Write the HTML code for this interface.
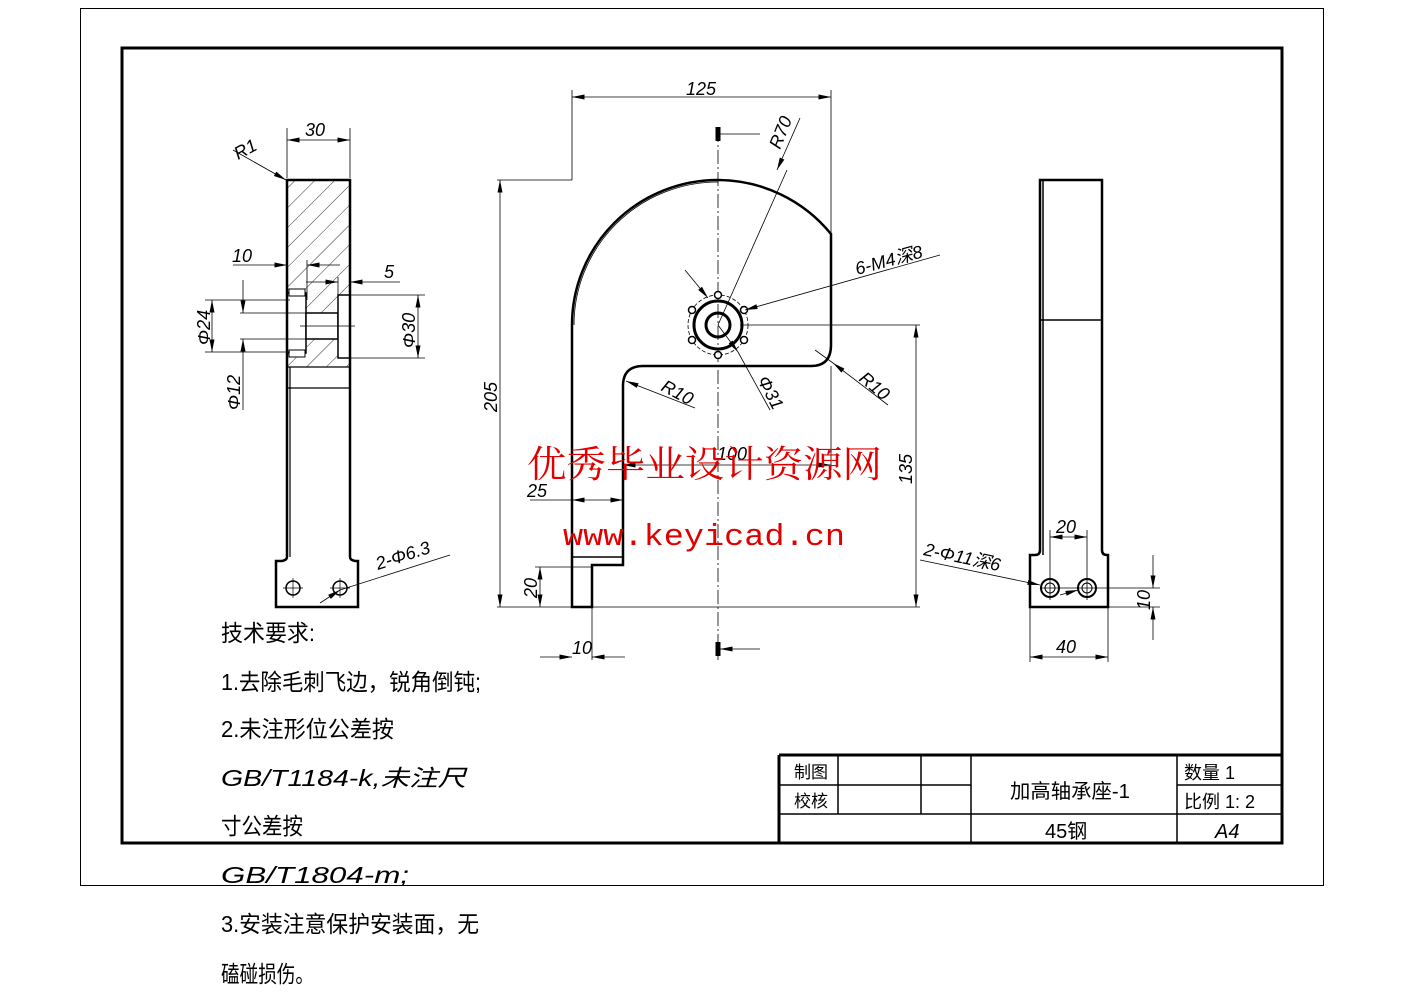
<!DOCTYPE html>
<html><head><meta charset="utf-8"><style>
html,body{margin:0;padding:0;background:#fff}
svg{display:block}
text{font-family:"Liberation Sans","Noto Sans CJK SC",sans-serif;fill:#000}
.t{font-style:italic;font-size:18px}
</style></head><body>
<svg width="1403" height="992" viewBox="0 0 1403 992" xmlns="http://www.w3.org/2000/svg">
<defs>
<marker id="a" viewBox="0 0 10 4" refX="10" refY="2" markerWidth="14" markerHeight="5" orient="auto-start-reverse" markerUnits="userSpaceOnUse"><path d="M0,0L10,2L0,4z" fill="#000"/></marker>
<pattern id="h" width="14" height="14" patternUnits="userSpaceOnUse" patternTransform="rotate(45)"><line x1="0" y1="0" x2="0" y2="14" stroke="#000" stroke-width="0.8"/></pattern>
</defs>
<rect x="80.5" y="8.5" width="1243" height="877" fill="none" stroke="#000" stroke-width="1"/>
<rect x="122" y="48" width="1160" height="795" fill="none" stroke="#000" stroke-width="3"/>

<g stroke="#000" fill="none">
<path d="M779 755H1282M779 755V843" stroke-width="3"/>
<path d="M779 785H971M1177 785H1282M779 814H1282M838 755V814M921 755V814M971 755V843M1177 755V843" stroke-width="1.5"/>
</g>
<text x="794" y="778" font-size="17">制图</text>
<text x="794" y="807" font-size="17">校核</text>
<text x="1010" y="798" font-size="20" textLength="120" lengthAdjust="spacingAndGlyphs">加高轴承座-1</text>
<text x="1045" y="838" font-size="20">45钢</text>
<text x="1184" y="779" font-size="18">数量 1</text>
<text x="1184" y="808" font-size="18">比例 1: 2</text>
<text x="1215" y="838" font-size="20" font-style="italic">A4</text>

<!-- LEFT VIEW -->
<g stroke="#000" fill="none">
<rect x="287" y="180" width="63" height="187" fill="url(#h)" stroke="none"/>
<rect x="287" y="293" width="19" height="60" fill="#fff" stroke="#000" stroke-width="1.5"/>
<rect x="306" y="313" width="32" height="26" fill="#fff" stroke="#000" stroke-width="1.5"/>
<rect x="338" y="295" width="12" height="63" fill="#fff" stroke="#000" stroke-width="1.5"/>
<rect x="289" y="289" width="16" height="7" fill="#fff" stroke-width="1"/>
<rect x="289" y="350" width="16" height="7" fill="#fff" stroke-width="1"/>
<path d="M287 180H350V557Q350 560 355 561H358V607H276V561H282Q287 560 287 557Z" stroke-width="2.5"/>
<path d="M287 367H350M287 388H350M290 367V557" stroke-width="1.2"/>
<circle cx="293" cy="588" r="7" stroke-width="1.5"/><circle cx="340" cy="588" r="7" stroke-width="1.5"/>
<path d="M283 588H303M293 578V598M330 588H350M340 578V598" stroke-width="0.7"/>
<g stroke-width="0.8">
<path d="M287 178V128M350 178V128"/>
<path d="M287 140H350" marker-start="url(#a)" marker-end="url(#a)"/>
<path d="M233 150L286 180" marker-end="url(#a)"/>
<path d="M233 265H287" marker-end="url(#a)"/><path d="M340 265H307" marker-end="url(#a)"/>
<path d="M307 260V300"/>
<path d="M306 282H338" marker-end="url(#a)"/><path d="M400 282H350" marker-end="url(#a)"/><path d="M338 277V295"/>
<path d="M205 300H290M205 352H290M240 313H320M240 339H320M300 326H355M350 295H425M350 358H425"/>
<path d="M212 300V352" marker-start="url(#a)" marker-end="url(#a)"/>
<path d="M243 280V313" marker-end="url(#a)"/><path d="M243 410V339" marker-end="url(#a)"/>
<path d="M418 295V358" marker-start="url(#a)" marker-end="url(#a)"/>
<path d="M320 603L340 590" marker-end="url(#a)"/><path d="M340 590L450 555"/>
</g>
</g>
<text class="t" x="305" y="136">30</text>
<text class="t" x="238" y="160" transform="rotate(-28 238 160)">R1</text>
<text class="t" x="232" y="262">10</text>
<text class="t" x="384" y="278">5</text>
<text class="t" x="210" y="345" transform="rotate(-90 210 345)">Φ24</text>
<text class="t" x="240" y="410" transform="rotate(-90 240 410)">Φ12</text>
<text class="t" x="415" y="348" transform="rotate(-90 415 348)">Φ30</text>
<text class="t" x="378" y="570" transform="rotate(-18 378 570)">2-Φ6.3</text>

<!-- MAIN VIEW -->
<g stroke="#000" fill="none">
<path d="M572 607V325A146 145 0 0 1 718 180A146 145 0 0 1 831 234V345Q831 366 811 366H643Q623 366 623 386V565H592V607Z" stroke-width="2.5"/>
<path d="M574 325A144 143 0 0 1 718 182" stroke-width="0.8"/>
<path d="M572 557H623" stroke-width="1.5"/>
<path d="M718 128V660" stroke-width="0.8" stroke-dasharray="14 3 2 3"/>
<path d="M718 127V141M718 642V656" stroke-width="5"/>
<path d="M760 134H720M760 649H720" stroke-width="0.8" marker-end="url(#a)"/>
<circle cx="718" cy="325" r="12" stroke-width="3"/>
<circle cx="718" cy="325" r="24" stroke-width="3"/>
<circle cx="718" cy="325" r="30" stroke-width="0.8" stroke-dasharray="4 2"/>
<g stroke-width="1.5" fill="#fff">
<circle cx="718" cy="295" r="3.5"/><circle cx="744" cy="310" r="3.5"/><circle cx="744" cy="340" r="3.5"/>
<circle cx="718" cy="355" r="3.5"/><circle cx="692" cy="340" r="3.5"/><circle cx="692" cy="310" r="3.5"/>
</g>
<g stroke-width="0.8">
<path d="M572 180V90M831 234V90"/>
<path d="M572 97H831" marker-start="url(#a)" marker-end="url(#a)"/>
<path d="M497 180H572M497 607H920M740 325H920"/>
<path d="M500 180V607" marker-start="url(#a)" marker-end="url(#a)"/>
<path d="M916 325V607" marker-start="url(#a)" marker-end="url(#a)"/>
<path d="M831 366V470"/>
<path d="M623 465H831" marker-start="url(#a)" marker-end="url(#a)"/>
<path d="M530 500H572"/><path d="M572 500H623" marker-start="url(#a)" marker-end="url(#a)"/>
<path d="M535 567H592"/><path d="M540 567V607" marker-start="url(#a)" marker-end="url(#a)"/>
<path d="M592 607V660"/>
<path d="M540 657H572" marker-end="url(#a)"/><path d="M625 657H592" marker-end="url(#a)"/>
<path d="M718 325L787 170" /><path d="M800 118L777 170" marker-end="url(#a)"/>
<path d="M940 255L745 310" marker-end="url(#a)"/>
<path d="M685 270L708 298" marker-end="url(#a)"/>
<path d="M718 325L738 352" marker-end="url(#a)"/><path d="M738 352L770 410"/>
<path d="M695 408L626 381" marker-end="url(#a)"/>
<path d="M888 405L833 363" marker-end="url(#a)"/><path d="M833 363L815 350"/>
</g>
</g>
<text class="t" x="686" y="95">125</text>
<text class="t" x="497" y="412" transform="rotate(-90 497 412)">205</text>
<text class="t" x="912" y="484" transform="rotate(-90 912 484)">135</text>
<text class="t" x="717" y="460">100</text>
<text class="t" x="527" y="497">25</text>
<text class="t" x="537" y="598" transform="rotate(-90 537 598)">20</text>
<text class="t" x="572" y="654">10</text>
<text class="t" x="780" y="150" transform="rotate(-68 780 150)">R70</text>
<text class="t" x="857" y="275" transform="rotate(-15 857 275)">6-M4深8</text>
<text class="t" x="660" y="390" transform="rotate(28 660 390)">R10</text>
<text class="t" x="858" y="380" transform="rotate(40 858 380)">R10</text>
<text class="t" x="757" y="380" transform="rotate(62 757 380)">Φ31</text>

<!-- RIGHT VIEW -->
<g stroke="#000" fill="none">
<path d="M1040 180H1102V550Q1102 555 1107 555H1108V607H1030V555H1035Q1040 555 1040 550Z" stroke-width="2.5"/>
<path d="M1040 320H1102M1043 180V555" stroke-width="1.5"/>
<circle cx="1050" cy="588" r="9" stroke-width="2"/><circle cx="1050" cy="588" r="5" stroke-width="1"/>
<circle cx="1087" cy="588" r="9" stroke-width="2"/><circle cx="1087" cy="588" r="5" stroke-width="1"/>
<g stroke-width="0.8">
<path d="M1050 530V600M1087 530V600M1040 588H1097M1077 588H1160"/>
<path d="M1050 537H1087" marker-start="url(#a)" marker-end="url(#a)"/>
<path d="M1030 607V662M1108 607V662"/>
<path d="M1030 657H1108" marker-start="url(#a)" marker-end="url(#a)"/>
<path d="M1108 607H1160"/>
<path d="M1153 555V588" marker-end="url(#a)"/><path d="M1153 640V607" marker-end="url(#a)"/>
<path d="M920 560L1040 585" marker-end="url(#a)"/>
<path d="M1060 595L1078 590" marker-end="url(#a)"/>
</g>
</g>
<text class="t" x="1056" y="533">20</text>
<text class="t" x="1056" y="653">40</text>
<text class="t" x="1150" y="610" transform="rotate(-90 1150 610)">10</text>
<text class="t" x="923" y="555" transform="rotate(12 923 555)">2-Φ11深6</text>

<text x="527" y="477" font-size="37" style="fill:#e00000;font-family:'Noto Serif CJK SC',serif" textLength="355" lengthAdjust="spacingAndGlyphs">优秀毕业设计资源网</text>
<text x="563" y="545" font-size="31" style="fill:#e00000;font-family:'Liberation Mono',monospace" textLength="282" lengthAdjust="spacingAndGlyphs">www.keyicad.cn</text>

<g font-size="23">
<text x="221" y="641" textLength="94" lengthAdjust="spacingAndGlyphs">技术要求:</text>
<text x="221" y="690" textLength="260" lengthAdjust="spacingAndGlyphs">1.去除毛刺飞边，锐角倒钝;</text>
<text x="221" y="737" textLength="173" lengthAdjust="spacingAndGlyphs">2.未注形位公差按</text>
<text x="221" y="786" textLength="245" lengthAdjust="spacingAndGlyphs" font-style="italic">GB/T1184-k,未注尺</text>
<text x="221" y="834" textLength="82" lengthAdjust="spacingAndGlyphs">寸公差按</text>
<text x="221" y="883" textLength="188" lengthAdjust="spacingAndGlyphs" font-style="italic">GB/T1804-m;</text>
<text x="221" y="932" textLength="258" lengthAdjust="spacingAndGlyphs">3.安装注意保护安装面，无</text>
<text x="221" y="982" textLength="93" lengthAdjust="spacingAndGlyphs">磕碰损伤。</text>
</g>
</svg>
</body></html>
